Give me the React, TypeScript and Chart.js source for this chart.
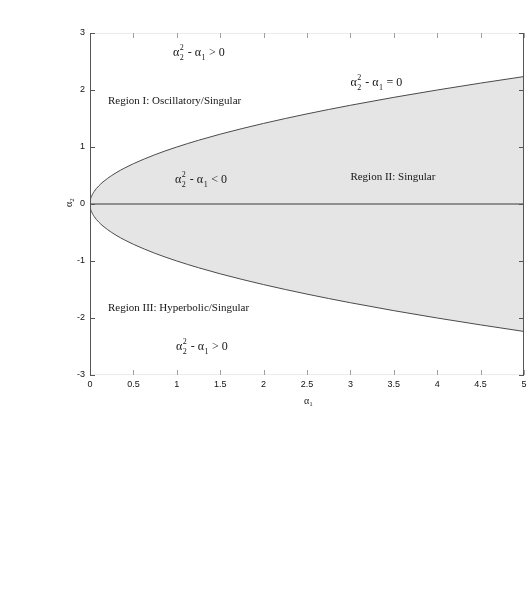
import React, { useEffect, useRef } from "react";
import { Chart, registerables } from "chart.js";

Chart.register(...registerables);

// Boundary curve α2² - α1 = 0
const alpha1 = [0, 0.005, 0.02, 0.05, 0.1, 0.15, 0.2, 0.3, 0.4, 0.5, 0.75, 1, 1.25, 1.5, 2, 2.5, 3, 3.5, 4, 4.5, 5];
const alpha2Upper = [0, 0.071, 0.141, 0.224, 0.316, 0.387, 0.447, 0.548, 0.632, 0.707, 0.866, 1, 1.118, 1.225, 1.414, 1.581, 1.732, 1.871, 2, 2.121, 2.236];
const alpha2Lower = [0, -0.071, -0.141, -0.224, -0.316, -0.387, -0.447, -0.548, -0.632, -0.707, -0.866, -1, -1.118, -1.225, -1.414, -1.581, -1.732, -1.871, -2, -2.121, -2.236];

// zero line
const zeroLineX = [0, 5];
const zeroLineY = [0, 0];

// tick labels
const xTickLabels = ["0", "0.5", "1", "1.5", "2", "2.5", "3", "3.5", "4", "4.5", "5"];
const yTickLabels = ["-3", "-2", "-1", "0", "1", "2", "3"];

// annotations (data coords, left aligned, vertical middle)
const annotKind = ["expr", "region", "expr", "expr", "region", "region", "expr"];
const annotText = [">", "Region I: Oscillatory/Singular", "=", "<", "Region II: Singular", "Region III: Hyperbolic/Singular", ">"];
const annotX = [0.956, 0.207, 3.0, 0.98, 3.0, 0.207, 0.99];
const annotY = [2.65, 1.81, 2.12, 0.42, 0.47, -1.82, -2.51];

const SERIF = "'Liberation Serif', 'Times New Roman', serif";
const SANS = "'Liberation Sans', Arial, sans-serif";

function drawExpr(ctx: CanvasRenderingContext2D, x: number, y: number, op: string) {
  const main = `12px ${SERIF}`;
  const small = `8px ${SERIF}`;
  ctx.textBaseline = "middle";
  ctx.textAlign = "left";
  let cx = x;
  ctx.font = main;
  ctx.fillText("\u03b1", cx, y);
  cx += ctx.measureText("\u03b1").width;
  ctx.font = small;
  ctx.fillText("2", cx + 0.5, y - 5);
  ctx.fillText("2", cx + 0.5, y + 5);
  cx += ctx.measureText("2").width + 1.5;
  ctx.font = main;
  const mid = " - \u03b1";
  ctx.fillText(mid, cx, y);
  cx += ctx.measureText(mid).width;
  ctx.font = small;
  ctx.fillText("1", cx + 0.5, y + 5);
  cx += ctx.measureText("1").width + 1;
  ctx.font = main;
  ctx.fillText(` ${op} 0`, cx, y);
}

const framePlugin = {
  id: "framePlugin",
  afterDraw(chart: any) {
    const { ctx, chartArea, scales } = chart;
    const { left, right, top, bottom } = chartArea;
    const xs = scales.x;
    const ys = scales.y;
    ctx.save();
    ctx.lineWidth = 1;
    ctx.strokeStyle = "#ececec";
    ctx.beginPath();
    ctx.moveTo(left, Math.round(top) + 0.5);
    ctx.lineTo(right, Math.round(top) + 0.5);
    ctx.moveTo(left, Math.round(bottom) - 0.5);
    ctx.lineTo(right, Math.round(bottom) - 0.5);
    ctx.stroke();
    ctx.strokeStyle = "#a0a0a0";
    ctx.beginPath();
    xs.ticks.forEach((t: any) => {
      const px = Math.round(xs.getPixelForValue(t.value)) + 0.5;
      ctx.moveTo(px, top);
      ctx.lineTo(px, top + 5);
      ctx.moveTo(px, bottom);
      ctx.lineTo(px, bottom - 5);
    });
    ctx.stroke();
    ctx.strokeStyle = "#555";
    ctx.beginPath();
    ctx.moveTo(Math.round(left) + 0.5, top);
    ctx.lineTo(Math.round(left) + 0.5, bottom);
    ctx.moveTo(Math.round(right) - 0.5, top);
    ctx.lineTo(Math.round(right) - 0.5, bottom);
    ys.ticks.forEach((t: any) => {
      const py = Math.round(ys.getPixelForValue(t.value)) + 0.5;
      ctx.moveTo(left, py);
      ctx.lineTo(left + 5, py);
      ctx.moveTo(right, py);
      ctx.lineTo(right - 5, py);
    });
    ctx.stroke();

    ctx.fillStyle = "#151515";
    annotText.forEach((txt, i) => {
      const px = xs.getPixelForValue(annotX[i]);
      const py = ys.getPixelForValue(annotY[i]);
      if (annotKind[i] === "expr") {
        drawExpr(ctx, px, py, txt);
      } else {
        ctx.font = `11px ${SERIF}`;
        ctx.textAlign = "left";
        ctx.textBaseline = "middle";
        ctx.fillText(txt, px, py);
      }
    });

    ctx.fillStyle = "#222";
    const tx = (left + right) / 2 - 3;
    const ty = bottom + 26;
    ctx.font = `10px ${SERIF}`;
    ctx.textAlign = "left";
    ctx.textBaseline = "middle";
    ctx.fillText("\u03b1", tx, ty);
    const aw = ctx.measureText("\u03b1").width;
    ctx.font = `7px ${SERIF}`;
    ctx.fillText("1", tx + aw, ty + 3);

    ctx.save();
    ctx.translate(left - 21, (top + bottom) / 2 + 3);
    ctx.rotate(-Math.PI / 2);
    ctx.font = `10px ${SERIF}`;
    ctx.fillText("\u03b1", 0, 0);
    ctx.font = `7px ${SERIF}`;
    ctx.fillText("2", aw, 3);
    ctx.restore();

    ctx.restore();
  },
};

export default function App() {
  const ref = useRef<HTMLCanvasElement | null>(null);
  useEffect(() => {
    if (!ref.current) return;
    const upper = alpha1.map((x, i) => ({ x, y: alpha2Upper[i] }));
    const lower = alpha1.map((x, i) => ({ x, y: alpha2Lower[i] }));
    const zero = zeroLineX.map((x, i) => ({ x, y: zeroLineY[i] }));
    const chart = new Chart(ref.current, {
      type: "line",
      data: {
        datasets: [
          {
            data: upper,
            borderColor: "#4a4a4a",
            borderWidth: 1,
            backgroundColor: "#e5e5e5",
            fill: "+1",
            pointRadius: 0,
            cubicInterpolationMode: "monotone",
            order: 1,
          },
          {
            data: lower,
            borderColor: "#4a4a4a",
            borderWidth: 1,
            backgroundColor: "#e5e5e5",
            fill: false,
            pointRadius: 0,
            cubicInterpolationMode: "monotone",
            order: 1,
          },
          {
            data: zero,
            borderColor: "#3a3a3a",
            borderWidth: 1,
            fill: false,
            pointRadius: 0,
            order: 0,
          },
        ],
      },
      options: {
        animation: false,
        responsive: false,
        parsing: false as any,
        layout: { padding: { left: 0, right: 7, top: 33, bottom: 0 } },
        plugins: {
          legend: { display: false },
          tooltip: { enabled: false },
          filler: { drawTime: "beforeDatasetsDraw" } as any,
        },
        scales: {
          x: {
            type: "linear",
            min: 0,
            max: 5,
            ticks: {
              stepSize: 0.5,
              padding: 4,
              color: "#111",
              font: { family: SANS, size: 9 },
              maxRotation: 0,
              callback: (_v: any, i: number) => xTickLabels[i],
            },
            grid: { display: false, drawTicks: false },
            border: { display: false },
            afterFit: (s: any) => {
              s.height = 220;
              s.paddingRight = 0;
              s.paddingLeft = 0;
            },
          },
          y: {
            type: "linear",
            min: -3,
            max: 3,
            ticks: {
              stepSize: 1,
              padding: 5,
              color: "#111",
              font: { family: SANS, size: 9 },
              callback: (_v: any, i: number) => yTickLabels[i],
            },
            grid: { display: false, drawTicks: false },
            border: { display: false },
            afterFit: (s: any) => {
              s.width = 90;
              s.paddingTop = 0;
              s.paddingBottom = 0;
            },
          },
        },
      },
      plugins: [framePlugin],
    });
    return () => chart.destroy();
  }, []);
  return (
    <div style={{ position: "absolute", left: 0, top: 0, width: 531, height: 595, background: "#fff" }}>
      <canvas ref={ref} width={531} height={595} style={{ display: "block" }} />
    </div>
  );
}
